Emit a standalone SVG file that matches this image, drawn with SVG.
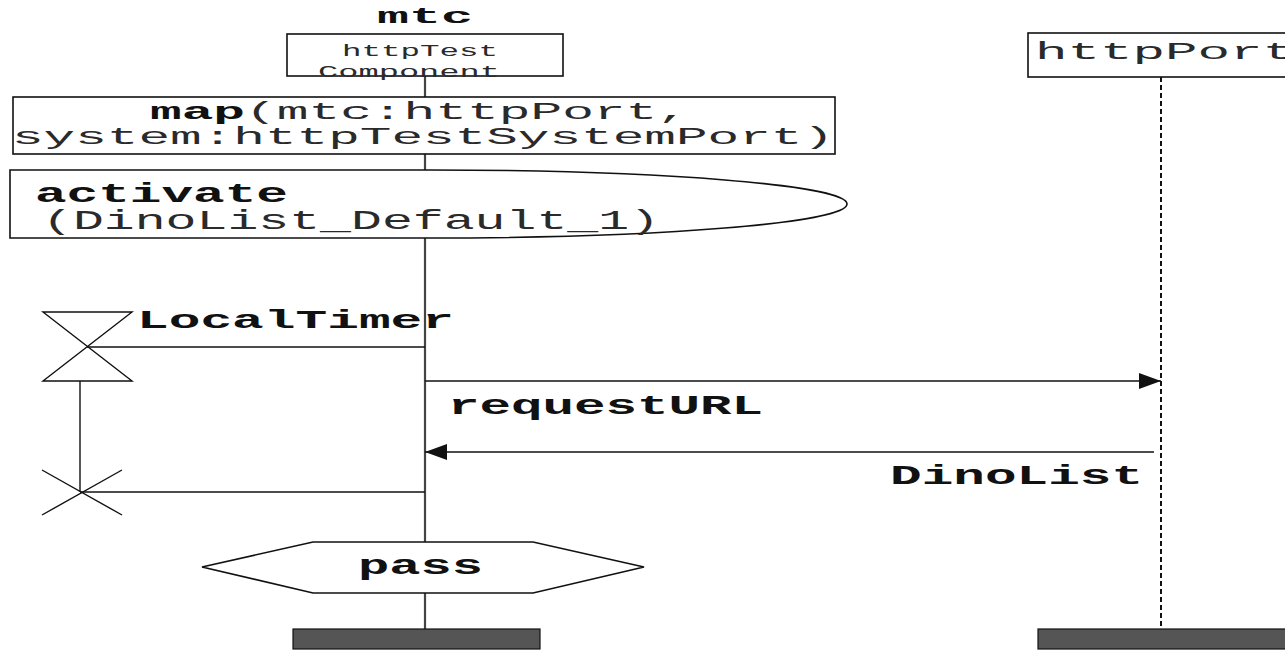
<svg xmlns="http://www.w3.org/2000/svg" width="1285" height="650" viewBox="0 0 1285 650">
<defs>
<style>
.t{font-family:"Liberation Mono","Courier New",monospace;fill:#2a2a2a}
.b{font-weight:bold;fill:#111}
.box{fill:#fff;stroke:#111;stroke-width:1.6}
.ln{stroke:#111;stroke-width:1.4;fill:none}
.bar{fill:#555;stroke:#111;stroke-width:1.2}
</style>
<marker id="ah" viewBox="0 0 22 16" refX="22" refY="8" markerWidth="22" markerHeight="16" markerUnits="userSpaceOnUse" orient="auto">
<path d="M0,0 L22,8 L0,16 Z" fill="#111"/>
</marker>
</defs>
<rect width="1285" height="650" fill="#fff"/>

<g id="lifelines">
<line x1="425" y1="76" x2="425" y2="629" stroke="#444" stroke-width="2.2"/>
<line x1="1161" y1="77" x2="1161" y2="629" stroke="#111" stroke-width="2" stroke-dasharray="5,3"/>
</g>

<g id="mtc-head">
<text class="t b" x="377" y="23" font-size="22" textLength="96" lengthAdjust="spacingAndGlyphs">mtc</text>
<rect class="box" x="287" y="34" width="276" height="42"/>
<text class="t" x="342" y="56" font-size="17" textLength="156" lengthAdjust="spacingAndGlyphs">httpTest</text>
<text class="t" x="318" y="77" font-size="17" textLength="182" lengthAdjust="spacingAndGlyphs">Component</text>
</g>

<g id="httpPort-head">
<rect class="box" x="1028" y="33" width="266" height="44"/>
<text class="t" x="1035" y="59" font-size="24" textLength="260" lengthAdjust="spacingAndGlyphs">httpPort</text>
</g>

<g id="map">
<rect class="box" x="13" y="97" width="822" height="57"/>
<text class="t b" x="150" y="119" font-size="23" textLength="95" lengthAdjust="spacingAndGlyphs">map</text>
<text class="t" x="245" y="119" font-size="23" textLength="444" lengthAdjust="spacingAndGlyphs">(mtc:httpPort,</text>
<text class="t" x="12" y="144" font-size="23" textLength="822" lengthAdjust="spacingAndGlyphs">system:httpTestSystemPort)</text>
</g>

<g id="activate">
<path class="box" d="M430,170 H10 V238 H430 A417 34 0 0 0 430,170 Z"/>
<text class="t b" x="35" y="202" font-size="27" textLength="253" lengthAdjust="spacingAndGlyphs">activate</text>
<text class="t" x="42" y="229" font-size="27" textLength="618" lengthAdjust="spacingAndGlyphs">(DinoList_Default_1)</text>
</g>

<g id="timer-start">
<path class="ln" d="M43,312 H132 L43,381 H132 Z"/>
<text class="t b" x="137" y="328" font-size="26" textLength="317" lengthAdjust="spacingAndGlyphs">LocalTimer</text>
</g>

<g id="timer-timeout">
<path class="ln" d="M42,470 L122,515 M42,515 L122,470"/>
</g>

<g id="pass">
<polygon class="box" points="202,567 313,542 533,542 644,567 533,593 313,593"/>
<text class="t b" x="358" y="574" font-size="28" textLength="125" lengthAdjust="spacingAndGlyphs">pass</text>
</g>

<g id="ends">
<rect class="bar" x="293" y="629" width="247" height="20"/>
<rect class="bar" x="1038" y="629" width="250" height="20"/>
</g>

<g id="connectors">
<line class="ln" x1="87" y1="347" x2="425" y2="347"/>
<line class="ln" x1="80" y1="381" x2="80" y2="492"/>
<line class="ln" x1="80" y1="492" x2="425" y2="492"/>
<line class="ln" x1="425" y1="381" x2="1161" y2="381" marker-end="url(#ah)"/>
<text class="t b" x="448" y="414" font-size="28" textLength="315" lengthAdjust="spacingAndGlyphs">requestURL</text>
<line class="ln" x1="1154" y1="452" x2="425" y2="452" marker-end="url(#ah)"/>
<text class="t b" x="890" y="484" font-size="28" textLength="253" lengthAdjust="spacingAndGlyphs">DinoList</text>
</g>
</svg>
